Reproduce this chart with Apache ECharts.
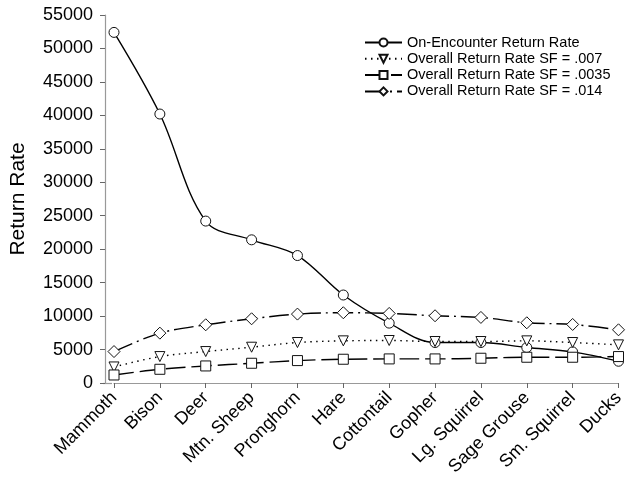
<!DOCTYPE html>
<html>
<head>
<meta charset="utf-8">
<script src="https://cdn.jsdelivr.net/npm/echarts@6/dist/echarts.min.js"></script>
<style>html,body{margin:0;padding:0;background:#fff}#c{width:627px;height:479px}</style>
</head>
<body>
<div id="c"></div>
<script>
var categories = ['Mammoth','Bison','Deer','Mtn. Sheep','Pronghorn','Hare','Cottontail','Gopher','Lg. Squirrel','Sage Grouse','Sm. Squirrel','Ducks'];
var onEncounter = [52400, 40200, 24200, 21400, 19050, 13150, 8950, 6050, 6050, 5300, 4650, 3250];
var sf007 = [2400, 3950, 4700, 5350, 6050, 6300, 6350, 6200, 6200, 6300, 6050, 5700];
var sf0035 = [1200, 2050, 2550, 2950, 3350, 3550, 3600, 3600, 3700, 3850, 3850, 3950];
var sf014 = [4700, 7450, 8700, 9600, 10300, 10500, 10400, 10050, 9800, 9000, 8750, 7950];
var seriesNames = ['On-Encounter Return Rate','Overall Return Rate SF = .007','Overall Return Rate SF = .0035','Overall Return Rate SF = .014'];

var FONT = 'Liberation Sans, Arial, sans-serif';
var chart = echarts.init(document.getElementById('c'), null, {renderer: 'canvas'});
function mk(name, data, symbol, size, dash) {
  return {
    name: name, type: 'line', data: data, smooth: 0.35,
    symbol: symbol, symbolSize: size, showSymbol: true,
    lineStyle: {color: '#000', width: 1.4, type: dash},
    itemStyle: {color: '#fff', borderColor: '#111', borderWidth: 1},
    emphasis: {disabled: true},
    z: 2
  };
}
chart.setOption({
  animation: false,
  backgroundColor: '#fff',
  grid: {left: 112, right: 3.5, top: 15, bottom: 96, containLabel: false},
  legend: {
    orient: 'vertical', left: 359, top: 30,
    itemWidth: 37, itemHeight: 10, itemGap: 1.3,
    textStyle: {fontFamily: FONT, fontSize: 14.5, color: '#000', lineHeight: 12},
    data: seriesNames
  },
  xAxis: {
    type: 'category', data: categories, boundaryGap: false,
    axisLine: {lineStyle: {color: '#999', width: 1.2}},
    axisTick: {alignWithLabel: true, length: 5, lineStyle: {color: '#666'}},
    axisLabel: {rotate: 45, fontFamily: FONT, fontSize: 18, color: '#000', margin: 12, interval: 0},
    splitLine: {show: false}
  },
  yAxis: {
    type: 'value', min: 0, max: 55000, interval: 5000, offset: 9,
    name: 'Return Rate', nameLocation: 'middle', nameGap: 76,
    nameTextStyle: {fontFamily: FONT, fontSize: 21, color: '#000'},
    axisLine: {show: true, lineStyle: {color: '#999', width: 1.2}},
    axisTick: {show: true, length: 5, lineStyle: {color: '#666'}},
    axisLabel: {fontFamily: FONT, fontSize: 18, color: '#000', margin: 12,
      formatter: function (v) { return String(v); }},
    splitLine: {show: false}
  },
  graphic: [{
    type: 'line', shape: {x1: 103, y1: 383.5, x2: 112, y2: 383.5},
    style: {stroke: '#999', lineWidth: 1.2}, silent: true
  }],
  series: [
    mk(seriesNames[0], onEncounter, 'circle', 10, 'solid'),
    mk(seriesNames[1], sf007, 'path://M0,0 L10,0 L5,9 Z', 10, [1.5, 4.5]),
    mk(seriesNames[2], sf0035, 'rect', 10, [20, 6]),
    mk(seriesNames[3], sf014, 'diamond', 12, [20, 5, 2, 5])
  ]
});
</script>
</body>
</html>
